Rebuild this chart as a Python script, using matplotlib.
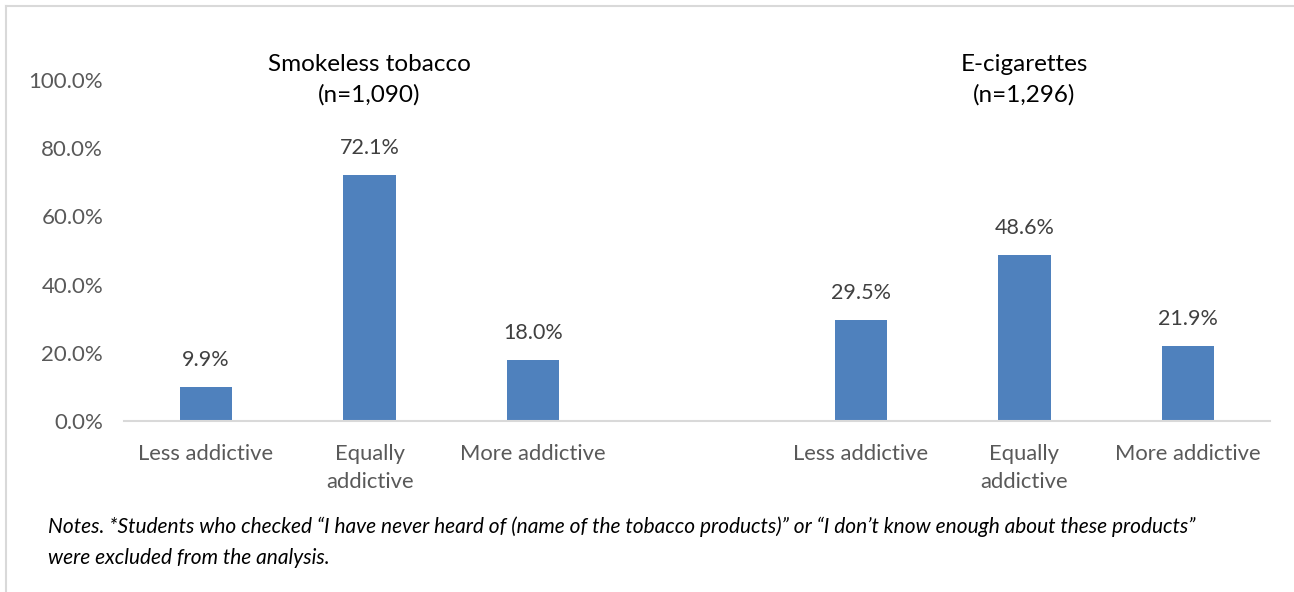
import numpy as np
import matplotlib.pyplot as plt
from matplotlib.lines import Line2D

plt.rcParams['font.family'] = ['Lato', 'DejaVu Sans']

categories = ["Less addictive", "Equally\naddictive", "More addictive"]
smokeless = [9.9, 72.1, 18.0]
ecig = [29.5, 48.6, 21.9]
group_titles = ["Smokeless tobacco\n(n=1,090)", "E-cigarettes\n(n=1,296)"]
yticks = [0, 20, 40, 60, 80, 100]

bar_color = "#4F81BD"
fig = plt.figure(figsize=(12.94, 5.92), dpi=100)
ax = fig.add_axes([124 / 1294, 1 - 421 / 592, (1270 - 124) / 1294, (421 - 80) / 592])

pos1 = np.arange(3)
pos2 = np.arange(3) + 4
positions = np.concatenate([pos1, pos2])
values = smokeless + ecig

bars = ax.bar(positions, values, width=0.32, color=bar_color, zorder=2)
for b, v in zip(bars, values):
    ax.annotate(f"{v:.1f}%", (b.get_x() + b.get_width() / 2, v),
                xytext=(0, 19.5), textcoords="offset points",
                ha="center", va="center", fontsize=15.5, color="#404040")

ax.set_xlim(-0.5, 6.5)
ax.set_ylim(0, 100)
ax.set_yticks(yticks)
ax.set_yticklabels([f"{t:.1f}%" for t in yticks], fontsize=16, color="#595959")
ax.set_xticks(positions)
ax.set_xticklabels(categories * 2, fontsize=15.8, color="#595959", linespacing=1.5)
ax.tick_params(axis="both", length=0)
ax.tick_params(axis="x", pad=16.5)
ax.tick_params(axis="y", pad=15)
for s in ["top", "right", "left"]:
    ax.spines[s].set_visible(False)
ax.spines["bottom"].set_color("#D9D9D9")
ax.spines["bottom"].set_linewidth(1.5)

for x, t in zip([1, 5], group_titles):
    ax.text(x, 1.0, t, transform=ax.get_xaxis_transform(), ha="center", va="center",
            fontsize=17.5, color="black", linespacing=1.5, multialignment="center")

fig.text(48 / 1294, 1 - 527 / 592,
         "Notes. *Students who checked \u201cI have never heard of (name of the tobacco products)\u201d or \u201cI don\u2019t know enough about these products\u201d",
         fontsize=15, style="italic", va="center", ha="left")
fig.text(48 / 1294, 1 - 558 / 592, "were excluded from the analysis.",
         fontsize=15, style="italic", va="center", ha="left")

# outer frame (left and top edges visible)
fig.add_artist(Line2D([6 / 1294, 6 / 1294], [0, 1 - 6 / 592], transform=fig.transFigure, color="#D9D9D9", lw=1.5))
fig.add_artist(Line2D([6 / 1294, 1], [1 - 6 / 592, 1 - 6 / 592], transform=fig.transFigure, color="#D9D9D9", lw=1.5))

fig.savefig("out.png", dpi=100)
